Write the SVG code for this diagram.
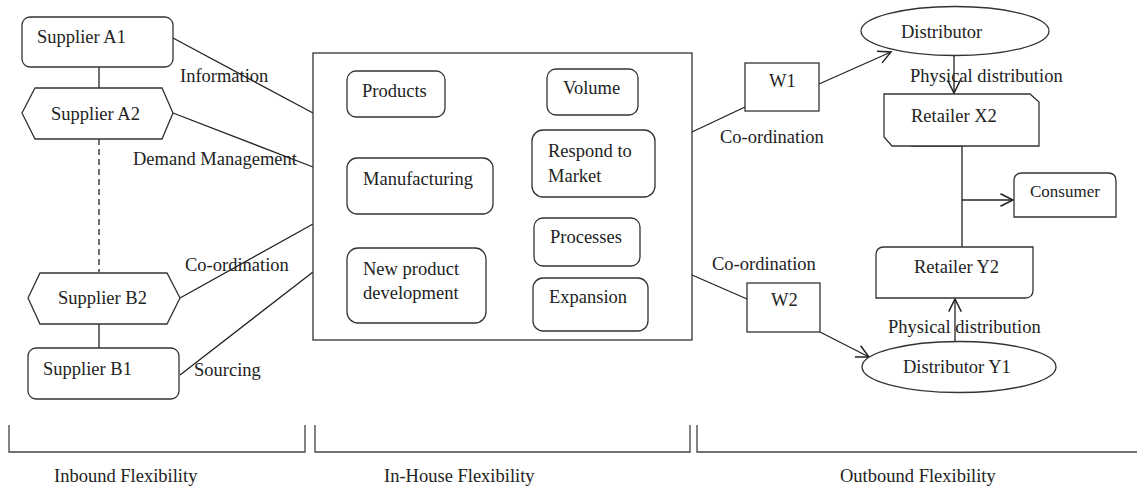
<svg xmlns="http://www.w3.org/2000/svg" width="1137" height="488" viewBox="0 0 1137 488">
<style>
text{font-family:"Liberation Serif","Times New Roman",serif;font-size:18.5px;fill:#222}
.n{fill:#fff;stroke:#333;stroke-width:1.3}
.c{fill:none;stroke:#222;stroke-width:1.3}
.b{fill:none;stroke:#444;stroke-width:1.3}
</style>
<defs>
<marker id="arr" markerUnits="userSpaceOnUse" markerWidth="16" markerHeight="16" refX="12" refY="6" orient="auto" viewBox="0 0 14 12">
<polyline points="1,0.5 12,6 1,11.5" fill="none" stroke="#222" stroke-width="1.3"/>
</marker>
</defs>
<rect width="1137" height="488" fill="#fff"/>
<g id="connectors">
<line class="c" x1="99" y1="67" x2="99" y2="88"/>
<line class="c" x1="99" y1="139" x2="99" y2="272" stroke-dasharray="6,4"/>
<line class="c" x1="99" y1="324" x2="99" y2="348"/>
<line class="c" x1="173" y1="38" x2="313" y2="113"/>
<line class="c" x1="173" y1="113" x2="313" y2="167"/>
<line class="c" x1="180" y1="298" x2="313" y2="224"/>
<line class="c" x1="180" y1="375" x2="313" y2="272"/>
<line class="c" x1="692" y1="132" x2="745" y2="107"/>
<line class="c" x1="819" y1="84" x2="891" y2="52" marker-end="url(#arr)"/>
<line class="c" x1="954" y1="56" x2="954" y2="93" marker-end="url(#arr)"/>
<line class="c" x1="692" y1="275" x2="747" y2="299"/>
<line class="c" x1="820" y1="332" x2="869" y2="357" marker-end="url(#arr)"/>
<line class="c" x1="955" y1="342" x2="955" y2="299" marker-end="url(#arr)"/>
<line class="c" x1="911" y1="146" x2="962" y2="146" stroke-width="2.2"/>
<polyline class="c" points="962,146 962,247"/>
<line class="c" x1="962" y1="200" x2="1013" y2="200" marker-end="url(#arr)"/>
<text x="180" y="82">Information</text>
<text x="133" y="165">Demand Management</text>
<text x="185" y="271">Co-ordination</text>
<text x="194" y="376">Sourcing</text>
<text x="720" y="143">Co-ordination</text>
<text x="712" y="270">Co-ordination</text>
<text x="910" y="82">Physical distribution</text>
<text x="888" y="333">Physical distribution</text>
</g>
<g id="supplierA1"><rect class="n" x="22" y="17" width="151" height="50" rx="8"/><text x="37" y="43">Supplier A1</text></g>
<g id="supplierA2"><polygon class="n" points="35,88 162,88 173,113 162,139 35,139 22,113"/><text x="51" y="120">Supplier A2</text></g>
<g id="supplierB2"><polygon class="n" points="40,273 167,273 180,298 167,324 40,324 28,298"/><text x="58" y="304">Supplier B2</text></g>
<g id="supplierB1"><rect class="n" x="28" y="348" width="151" height="51" rx="8"/><text x="43" y="375">Supplier B1</text></g>
<g id="inhouse"><rect class="n" x="313" y="53" width="379" height="287"/></g>
<g id="products"><rect class="n" x="347" y="71" width="98" height="46" rx="9"/><text x="362" y="97">Products</text></g>
<g id="volume"><rect class="n" x="547" y="69" width="91" height="46" rx="9"/><text x="563" y="94">Volume</text></g>
<g id="manufacturing"><rect class="n" x="347" y="158" width="146" height="56" rx="10"/><text x="363" y="185">Manufacturing</text></g>
<g id="respond"><rect class="n" x="532" y="130" width="123" height="67" rx="11"/><text x="548" y="157">Respond to</text><text x="548" y="182">Market</text></g>
<g id="processes"><rect class="n" x="534" y="218" width="106" height="48" rx="9"/><text x="550" y="243">Processes</text></g>
<g id="npd"><rect class="n" x="347" y="248" width="139" height="75" rx="11"/><text x="363" y="275">New product</text><text x="363" y="299">development</text></g>
<g id="expansion"><rect class="n" x="533" y="278" width="115" height="53" rx="10"/><text x="549" y="303">Expansion</text></g>
<g id="w1"><rect class="n" x="745" y="63" width="74" height="48"/><text x="769" y="87">W1</text></g>
<g id="w2"><rect class="n" x="747" y="283" width="73" height="49"/><text x="771" y="306">W2</text></g>
<g id="distributor"><ellipse class="n" cx="955" cy="31" rx="94" ry="24.5"/><text x="901" y="38">Distributor</text></g>
<g id="distributorY1"><ellipse class="n" cx="959" cy="367" rx="97" ry="25.5"/><text x="903" y="373">Distributor Y1</text></g>
<g id="retailerX2"><polygon class="n" points="884,94 1030,94 1039,102 1039,146 892,146 884,137"/><text x="911" y="122">Retailer X2</text></g>
<g id="retailerY2"><path class="n" d="M884,247 H1033 V290 Q1033,298 1025,298 H876 V255 Q876,247 884,247 Z"/><text x="914" y="273">Retailer Y2</text></g>
<g id="consumer"><path class="n" d="M1022,173 H1108 Q1116,173 1116,181 V217 H1014 V181 Q1014,173 1022,173 Z"/><text x="1030" y="197" style="font-size:17px">Consumer</text></g>
<g id="brackets">
<polyline class="b" points="9,425 9,452 305,452 305,425"/>
<polyline class="b" points="315,425 315,452 690,452 690,425"/>
<polyline class="b" points="697,425 697,452 1137,452"/>
<text x="54" y="482">Inbound Flexibility</text>
<text x="384" y="482">In-House Flexibility</text>
<text x="840" y="482">Outbound Flexibility</text>
</g>
</svg>
